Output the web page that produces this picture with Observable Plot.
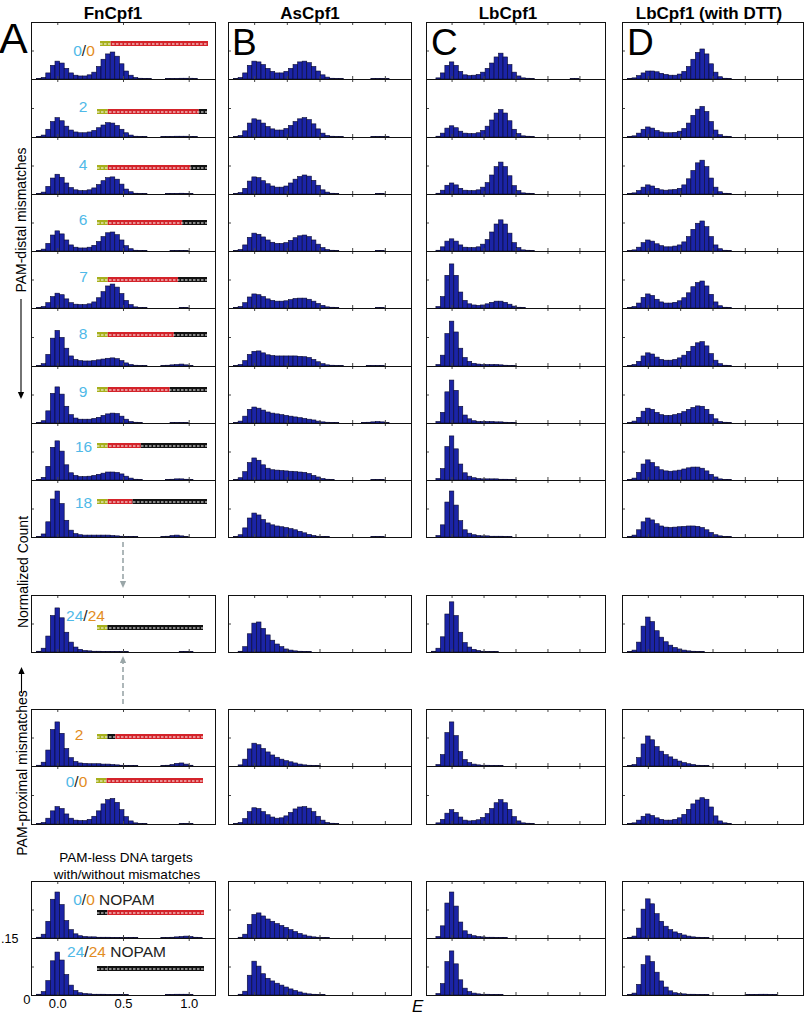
<!DOCTYPE html>
<html><head><meta charset="utf-8">
<script src="https://cdn.jsdelivr.net/npm/d3@7"></script>
<script src="https://cdn.jsdelivr.net/npm/@observablehq/plot@0.6"></script>
<style>
body{margin:0;background:#fff;font-family:"Liberation Sans",Arial,sans-serif}
#fig{position:relative;width:806px;height:1014px;overflow:hidden;background:#fff}
</style></head>
<body><div id="fig"></div>
<script>
// ---------- DATA ----------
const enzymes = ["FnCpf1", "AsCpf1", "LbCpf1", "LbCpf1 (with DTT)"];
const panelLetters = ["A", "B", "C", "D"];
// FRET efficiency bin centres (bin width 0.035)
const binCenters = [-0.175,-0.14,-0.105,-0.07,-0.035,0,0.035,0.07,0.105,0.14,0.175,0.21,0.245,0.28,0.315,0.35,0.385,0.42,0.455,0.49,0.525,0.56,0.595,0.63,0.665,0.7,0.735,0.77,0.805,0.84,0.875,0.91,0.945,0.98,1.015,1.05,1.085,1.12,1.155,1.19];
const binWidth = 0.035;
// rows: 0/0, 2, 4, 6, 7, 8, 9, 16, 18 (PAM-distal), 24/24, 2 (PAM-proximal), 0/0, 0/0 NOPAM, 24/24 NOPAM
// normalized counts, in thousandths
const fnCpf1 = [
[0,1,4,16,36,47,42,28,16,10,8,8,11,18,33,52,66,71,60,40,21,10,4,2,1,1,0,0,0,1,1,1,2,2,2,1,0,0,0,0],
[0,1,5,20,40,50,42,28,18,13,11,11,13,17,24,31,37,36,30,20,11,5,2,1,1,0,0,0,1,1,1,2,2,2,1,1,0,0,0,0],
[0,1,5,20,42,52,44,29,17,11,9,9,11,16,25,35,43,45,39,26,13,6,2,1,1,0,0,0,0,1,1,1,2,1,1,0,0,0,0,0],
[0,1,5,20,42,53,45,29,16,10,8,8,10,15,25,38,48,50,43,29,14,6,2,1,1,0,0,0,0,0,1,1,1,1,0,0,0,0,0,0],
[0,1,4,14,30,39,35,24,14,10,9,9,11,16,27,43,58,63,55,38,20,9,3,1,1,0,0,0,0,0,0,0,1,1,0,0,0,0,0,0],
[0,1,6,30,72,92,74,46,26,17,14,13,13,14,16,18,20,21,19,14,8,4,2,1,1,0,0,0,1,2,3,4,5,3,1,0,0,0,0,0],
[0,1,6,32,78,95,76,44,22,13,10,10,10,12,15,20,24,26,25,18,10,4,2,1,0,0,0,0,0,0,1,1,1,1,0,0,0,0,0,0],
[0,1,7,36,86,103,76,40,19,12,9,9,10,12,15,18,21,21,20,16,10,5,2,1,0,0,0,0,0,1,2,3,3,2,1,0,0,0,0,0],
[0,1,8,40,100,121,88,44,18,9,6,5,5,5,5,5,5,4,3,2,1,1,1,0,0,0,0,0,1,2,4,5,3,1,0,0,0,0,0,0],
[0,2,10,42,96,116,90,52,26,13,7,4,3,2,2,1,1,1,1,1,1,0,0,0,0,0,0,0,0,0,0,0,1,1,1,0,0,0,0,0],
[0,2,10,42,96,116,86,46,22,12,8,7,6,6,6,5,5,4,3,2,1,1,1,0,0,0,0,0,1,2,4,7,8,5,2,0,0,0,0,0],
[0,1,4,15,34,45,40,26,15,10,9,9,12,20,34,52,63,66,56,37,19,8,3,1,1,0,0,0,0,0,0,0,1,1,1,0,0,0,0,0],
[0,2,10,44,102,121,88,46,22,11,6,4,3,3,2,2,2,1,1,1,1,1,1,0,0,0,0,0,1,1,2,3,4,5,4,2,1,0,0,0],
[0,2,9,38,90,113,92,54,26,12,6,4,3,2,2,2,1,1,1,1,1,0,0,0,0,0,0,0,0,1,1,2,2,2,1,0,0,0,0,0]
];
const asCpf1 = [
[0,1,4,16,36,47,45,38,28,20,16,16,20,28,38,45,47,43,33,21,11,5,2,1,1,0,0,0,0,0,0,1,1,1,1,0,0,0,0,0],
[0,1,4,16,36,47,44,36,27,21,18,18,22,30,40,47,50,45,34,21,10,4,2,1,1,0,0,0,0,0,0,1,1,1,1,0,0,0,0,0],
[0,1,4,15,34,45,43,35,27,21,18,18,21,29,39,46,50,47,36,23,11,5,2,1,0,0,0,0,0,0,0,0,1,1,0,0,0,0,0,0],
[0,1,4,16,36,47,44,37,29,23,20,20,22,28,35,40,42,38,29,18,9,4,2,1,0,0,0,0,0,0,0,0,1,1,0,0,0,0,0,0],
[0,1,4,14,29,37,35,30,24,20,18,18,19,22,25,26,26,23,18,12,7,3,2,1,0,0,0,0,0,0,0,0,1,1,0,0,0,0,0,0],
[0,1,4,14,30,38,39,34,29,27,26,26,26,26,26,25,24,22,17,11,6,3,2,1,1,0,0,0,0,0,1,1,1,1,0,0,0,0,0,0],
[0,1,5,18,36,42,39,34,29,26,24,22,20,18,16,14,12,10,8,5,3,2,1,1,0,0,0,0,0,1,2,3,4,3,1,0,0,0,0,0],
[0,1,6,22,46,58,52,40,31,27,26,25,24,23,22,21,20,17,12,8,4,2,1,0,0,0,0,0,0,0,0,1,1,1,0,0,0,0,0,0],
[0,1,6,24,50,63,58,46,37,32,29,27,25,22,19,15,11,7,4,2,1,1,0,0,0,0,0,0,0,0,0,1,1,1,0,0,0,0,0,0],
[0,0,2,14,48,76,79,62,45,31,21,14,8,5,3,2,1,1,0,0,0,0,0,0,0,0,0,0,0,0,0,0,0,0,0,0,0,0,0,0],
[0,0,3,18,45,60,56,46,37,29,23,18,14,11,8,5,3,2,1,1,0,0,0,0,0,0,0,0,0,0,0,0,0,0,0,0,0,0,0,0],
[0,1,4,14,32,42,40,32,24,18,15,16,21,30,39,44,45,41,32,20,10,4,2,1,0,0,0,0,0,0,0,0,0,0,0,0,0,0,0,0],
[0,0,2,10,36,62,66,58,50,44,38,33,28,22,17,12,8,5,3,2,1,1,0,0,0,0,0,0,0,0,0,0,0,0,0,0,0,0,0,0],
[0,0,2,10,52,89,76,56,44,37,31,26,21,16,12,8,5,3,2,1,1,0,0,0,0,0,0,0,0,0,0,0,0,0,0,0,0,0,0,0]
];
const lbCpf1 = [
[0,0,3,16,36,45,36,20,11,9,10,12,18,28,42,58,68,58,38,18,8,3,2,1,0,0,0,0,0,0,0,0,1,1,0,0,0,0,0,0],
[0,0,2,10,23,29,24,15,10,9,9,11,17,28,44,62,71,62,42,20,9,3,2,1,0,0,0,0,0,0,0,0,0,0,0,0,0,0,0,0],
[0,0,2,10,23,29,24,15,10,9,9,11,18,30,50,72,84,72,48,22,9,3,2,1,0,0,0,0,0,0,0,0,0,0,0,0,0,0,0,0],
[0,0,2,11,26,32,26,16,10,9,9,11,18,30,50,71,82,71,47,22,9,3,2,1,0,0,0,0,0,0,0,0,0,0,0,0,0,0,0,0],
[0,0,4,30,86,116,86,42,20,11,8,7,8,11,15,18,18,15,10,5,2,1,0,0,0,0,0,0,0,0,0,0,0,0,0,0,0,0,0,0],
[0,0,4,28,84,116,88,46,22,12,7,5,4,4,4,4,3,2,1,1,0,0,0,0,0,0,0,0,0,0,0,0,0,0,0,0,0,0,0,0],
[0,0,4,28,82,113,86,44,21,11,6,4,4,4,4,3,3,2,1,1,0,0,0,0,0,0,0,0,0,0,0,0,0,0,0,0,0,0,0,0],
[0,0,4,30,88,116,82,42,19,10,6,4,3,3,3,3,2,2,1,1,0,0,0,0,0,0,0,0,0,0,0,0,0,0,0,0,0,0,0,0],
[0,0,4,32,92,121,84,43,19,10,6,4,3,3,2,2,2,1,1,0,0,0,0,0,0,0,0,0,0,0,0,0,0,0,0,0,0,0,0,0],
[0,2,10,40,100,132,96,52,25,13,7,4,2,1,1,1,0,0,0,0,0,0,0,0,0,0,0,0,0,0,0,0,0,0,0,0,0,0,0,0],
[0,0,4,30,88,116,80,38,17,9,5,3,2,2,1,1,1,0,0,0,0,0,0,0,0,0,0,0,0,0,0,0,0,0,0,0,0,0,0,0],
[0,0,3,12,28,37,30,18,10,8,9,11,17,27,40,55,63,55,38,19,8,3,2,1,0,0,0,0,0,0,0,0,0,0,0,0,0,0,0,0],
[0,0,4,32,92,121,84,42,19,10,6,4,3,2,2,1,1,1,0,0,0,0,0,0,0,0,0,0,0,0,0,0,0,0,0,0,0,0,0,0],
[0,0,4,30,88,116,82,40,18,9,5,3,2,2,1,1,1,0,0,0,0,0,0,0,0,0,0,0,0,0,0,0,0,0,0,0,0,0,0,0]
];
const lbCpf1DTT = [
[0,1,3,9,16,21,21,19,15,12,10,10,13,20,33,52,70,79,66,40,18,6,2,1,0,0,0,0,0,0,0,0,0,0,0,0,0,0,0,0],
[0,1,3,10,20,26,23,17,13,11,11,12,15,22,36,56,72,79,66,40,18,6,2,1,0,0,0,0,0,0,0,0,0,0,0,0,0,0,0,0],
[0,1,3,9,18,24,21,15,11,10,11,12,15,24,40,62,82,89,72,42,18,6,2,1,0,0,0,0,0,0,0,0,0,0,0,0,0,0,0,0],
[0,1,3,10,22,29,26,19,14,11,11,13,16,24,38,57,73,79,64,38,16,6,2,1,0,0,0,0,0,0,0,0,0,0,0,0,0,0,0,0],
[0,1,4,13,28,37,33,23,16,13,13,15,19,27,40,56,67,71,58,36,16,6,2,1,0,0,0,0,0,0,0,0,0,0,0,0,0,0,0,0],
[0,1,4,12,26,34,31,23,17,15,15,17,21,28,38,51,60,63,52,32,15,6,2,1,0,0,0,0,0,0,0,0,0,0,0,0,0,0,0,0],
[0,1,5,15,31,39,36,28,22,20,20,22,25,30,36,41,45,44,36,23,11,4,2,1,0,0,0,0,0,0,0,0,0,0,0,0,0,0,0,0],
[0,1,5,20,42,53,46,35,27,24,23,24,26,29,32,34,34,31,24,15,8,3,1,1,0,0,0,0,0,0,0,0,0,0,0,0,0,0,0,0],
[0,1,5,19,40,50,45,35,29,26,25,26,27,28,29,29,28,25,19,12,6,3,1,1,0,0,0,0,0,0,0,0,0,0,0,0,0,0,0,0],
[0,1,5,26,68,92,80,56,39,27,18,12,8,5,3,2,1,1,0,0,0,0,0,0,0,0,0,0,0,0,0,0,0,0,0,0,0,0,0,0],
[0,1,4,22,58,79,69,51,39,30,24,18,13,9,6,4,2,1,1,0,0,0,0,0,0,0,0,0,0,0,0,0,0,0,0,0,0,0,0,0],
[0,1,3,10,20,26,22,16,12,10,10,12,16,25,38,52,62,68,64,44,21,8,3,1,0,0,0,0,0,0,0,0,0,0,0,0,0,0,0,0],
[0,1,5,26,76,103,90,64,44,31,22,16,12,8,5,3,2,1,1,0,0,0,0,0,0,0,0,0,0,0,0,0,0,0,0,0,0,0,0,0],
[0,1,5,28,80,103,88,60,37,21,11,6,4,3,2,2,1,1,1,0,0,0,0,0,0,0,0,1,1,1,2,2,1,1,0,0,0,0,0,0]
];
// row labels: [text, role] role b = PAM-distal (blue), o = PAM-proximal (orange), k = black
const rowLabels = [
 [["0","b"],["/","k"],["0","o"]], [["2","b"]], [["4","b"]], [["6","b"]], [["7","b"]], [["8","b"]], [["9","b"]], [["16","b"]], [["18","b"]],
 [["24","b"],["/","k"],["24","o"]], [["2","o"]], [["0","b"],["/","k"],["0","o"]],
 [["0","b"],["/","k"],["0","o"],[" NOPAM","k"]], [["24","b"],["/","k"],["24","o"],[" NOPAM","k"]]
];
// target strand: PAM present?, distal mismatches, proximal mismatches (24-nt protospacer)
const hasPAM = [true,true,true,true,true,true,true,true,true,true,true,true,false,false];
const distalMismatches = [0,2,4,6,7,8,9,16,18,24,0,0,0,24];
const proximalMismatches = [0,0,0,0,0,0,0,0,0,0,2,0,0,0];
const xTicksA = [0, 0.5, 1];
const xTicksOther = [0, 0.25, 0.5, 0.75, 1];
const xTickLabels = ["0.0", "0.5", "1.0"];
const yTickLabels = ["0", ".15"];

// ---------- LAYOUT ----------
const fig = document.getElementById("fig");
const colLeft = [31, 228, 426, 622];
const colWidth = [184, 183, 179, 181];
const rowSlot = [0,1,2,3,4,5,6,7,8,10,12,13,15,16];
const slotTop = s => Math.round(22 + s * 57.25);
const columns = [fnCpf1, asCpf1, lbCpf1, lbCpf1DTT];
const barFill = "#1b24a6", barEdge = "#08082e";
const blue = "#4fb9e8", orange = "#e38c22";
const fontFam = "Liberation Sans, Arial, sans-serif";

function place(node, left, top) {
  node.style.position = "absolute";
  node.style.left = left + "px";
  node.style.top = top + "px";
  fig.appendChild(node);
}

columns.forEach((col, c) => {
  col.forEach((vals, r) => {
    const s = rowSlot[r];
    const top = slotTop(s), h = slotTop(s + 1) - top;
    const corner = c === 0 && r === 13;
    const mL = corner ? 31 : 1, mB = corner ? 20 : 1;
    const w = colWidth[c];
    const data = vals.map((v, i) => ({x1: binCenters[i] - binWidth / 2, x2: binCenters[i] + binWidth / 2, y: v / 1000})).filter(d => d.y > 0);
    const ticks = c === 0 ? xTicksA : xTicksOther;
    const marks = [
      Plot.rectY(data, {x1: "x1", x2: "x2", y: "y", fill: barFill, stroke: barEdge, strokeWidth: 0.6}),
      Plot.tickX(ticks, {x: d => d, insetTop: h - 3, stroke: "#444"}),
      Plot.tickX(ticks, {x: d => d, insetBottom: h - 3, stroke: "#444"}),
      Plot.tickY([0.075], {y: d => d, insetRight: w - 3, stroke: "#444"}),
      Plot.frame({stroke: "#111"})
    ];
    if (corner) {
      marks.push(Plot.axisX(xTicksA, {tickSize: 0, tickPadding: 3, fontSize: 13, label: null, tickFormat: d => xTickLabels[xTicksA.indexOf(d)]}));
      marks.push(Plot.axisY([0.15], {tickSize: 0, tickPadding: 13, fontSize: 12.5, label: null, tickFormat: () => yTickLabels[1]}));
      marks.push(Plot.axisY([0], {tickSize: 0, tickPadding: 1, dy: 4, fontSize: 13, label: null, tickFormat: () => yTickLabels[0]}));
    }
    const svg = Plot.plot({
      width: w + mL + 1, height: h + 1 + mB,
      marginTop: 1, marginRight: 1, marginBottom: mB, marginLeft: mL,
      x: {domain: [-0.2, 1.2], axis: null, label: null},
      y: {domain: [0, 0.15], axis: null, label: null},
      style: {background: "none", overflow: "visible", fontFamily: fontFam, fontSize: "13px", color: "#000"},
      marks
    });
    place(svg, colLeft[c] - mL, top - 1);
  });
});

// strand diagrams (nucleotide coordinates: PAM -2.6..0, protospacer 0..24)
const strandX = [100,97,97,97,97,97,97,97,97,97,97,96,97,97];
const strandW = [108,110,110,110,110,110,110,110,110,106,106,107,107,107];
const strandDy = [21,32.5,30,28,28,26,23.5,22,21,32.5,27.5,14,31,30];
const segColor = {pam: "#a7b01c", match: "#d3232a", mis: "#111", nopam: "#111"};
rowSlot.forEach((s, r) => {
  const segs = [{a: -2.6, b: 0, kind: hasPAM[r] ? "pam" : "nopam"}];
  const p = proximalMismatches[r], dm = distalMismatches[r];
  if (p > 0) segs.push({a: 0, b: p, kind: "mis"});
  if (24 - dm > p) segs.push({a: p, b: 24 - dm, kind: "match"});
  if (dm > 0) segs.push({a: 24 - dm, b: 24, kind: "mis"});
  const svg = Plot.plot({
    width: strandW[r], height: 5, margin: 0,
    x: {domain: [-2.6, 24], axis: null}, y: {domain: [0, 1], axis: null},
    color: {type: "identity"},
    style: {background: "none", overflow: "visible"},
    marks: [
      Plot.barX(segs, {x1: "a", x2: "b", fill: d => segColor[d.kind]}),
      Plot.ruleY([0.5], {stroke: "#fff", strokeWidth: 1, strokeDasharray: "2.5,1.5"})
    ]
  });
  place(svg, strandX[r], Math.round(slotTop(s) + strandDy[r] - 2.5));
});

// ---------- ANNOTATIONS ----------
const ov = d3.select("#fig").append("svg")
  .attr("width", 806).attr("height", 1014)
  .style("position", "absolute").style("left", 0).style("top", 0)
  .style("font-family", fontFam);

const titleX = [113, 310, 508, 709];
enzymes.forEach((t, i) => ov.append("text").attr("x", titleX[i]).attr("y", 19)
  .attr("text-anchor", "middle").attr("font-weight", "bold").attr("font-size", 17).text(t));
const letterX = [-1, 232, 431, 627], letterSize = [43, 37, 37, 37], letterY = [53, 55, 55, 55];
panelLetters.forEach((t, i) => ov.append("text").attr("x", letterX[i]).attr("y", letterY[i])
  .attr("font-size", letterSize[i]).text(t));

// row labels
const labelX = [84,83,83,83,83.5,83,83,83.5,83.5,85.5,79,76.5,114,116.5];
const labelDy = [27.5,27,26.5,25,25,25,24.5,23,22,19.5,24.5,15,18,13];
const roleColor = {b: blue, o: orange, k: "#222"};
rowLabels.forEach((parts, r) => {
  const t = ov.append("text").attr("x", labelX[r]).attr("y", slotTop(rowSlot[r]) + labelDy[r])
    .attr("text-anchor", "middle").attr("dominant-baseline", "central").attr("font-size", 15.5)
    .attr("xml:space", "preserve");
  parts.forEach(([txt, role]) => t.append("tspan").attr("fill", roleColor[role]).text(txt));
});

// rotated axis labels
function vtext(x, y, txt) {
  ov.append("text").attr("transform", `translate(${x},${y}) rotate(-90)`)
    .attr("text-anchor", "middle").attr("dominant-baseline", "central").attr("font-size", 14).text(txt);
}
vtext(21, 220, "PAM-distal mismatches");
vtext(23, 572, "Normalized Count");
vtext(22, 773, "PAM-proximal mismatches");

function arrow(x, y1, y2, color, width, dash, head) {
  const dir = Math.sign(y2 - y1);
  ov.append("line").attr("x1", x).attr("x2", x).attr("y1", y1).attr("y2", y2 - dir * head)
    .attr("stroke", color).attr("stroke-width", width).attr("stroke-dasharray", dash);
  ov.append("path").attr("d", `M${x - head * 0.45},${y2 - dir * head}L${x + head * 0.45},${y2 - dir * head}L${x},${y2}Z`).attr("fill", color);
}
arrow(21, 299, 399, "#000", 1.1, null, 7);
arrow(21.5, 693, 667, "#000", 1.1, null, 7);
arrow(123, 542, 588, "#9aa6a8", 1.6, "5,3", 7);
arrow(123, 704, 656, "#9aa6a8", 1.6, "5,3", 7);

ov.append("text").attr("x", 126).attr("y", 857).attr("text-anchor", "middle").attr("dominant-baseline", "central")
  .attr("font-size", 13.5).text("PAM-less DNA targets");
ov.append("text").attr("x", 127).attr("y", 874).attr("text-anchor", "middle").attr("dominant-baseline", "central")
  .attr("font-size", 13.5).text("with/without mismatches");
ov.append("text").attr("x", 412).attr("y", 1006).attr("dominant-baseline", "central")
  .attr("font-size", 17).attr("font-style", "italic").text("E");
</script></body></html>
